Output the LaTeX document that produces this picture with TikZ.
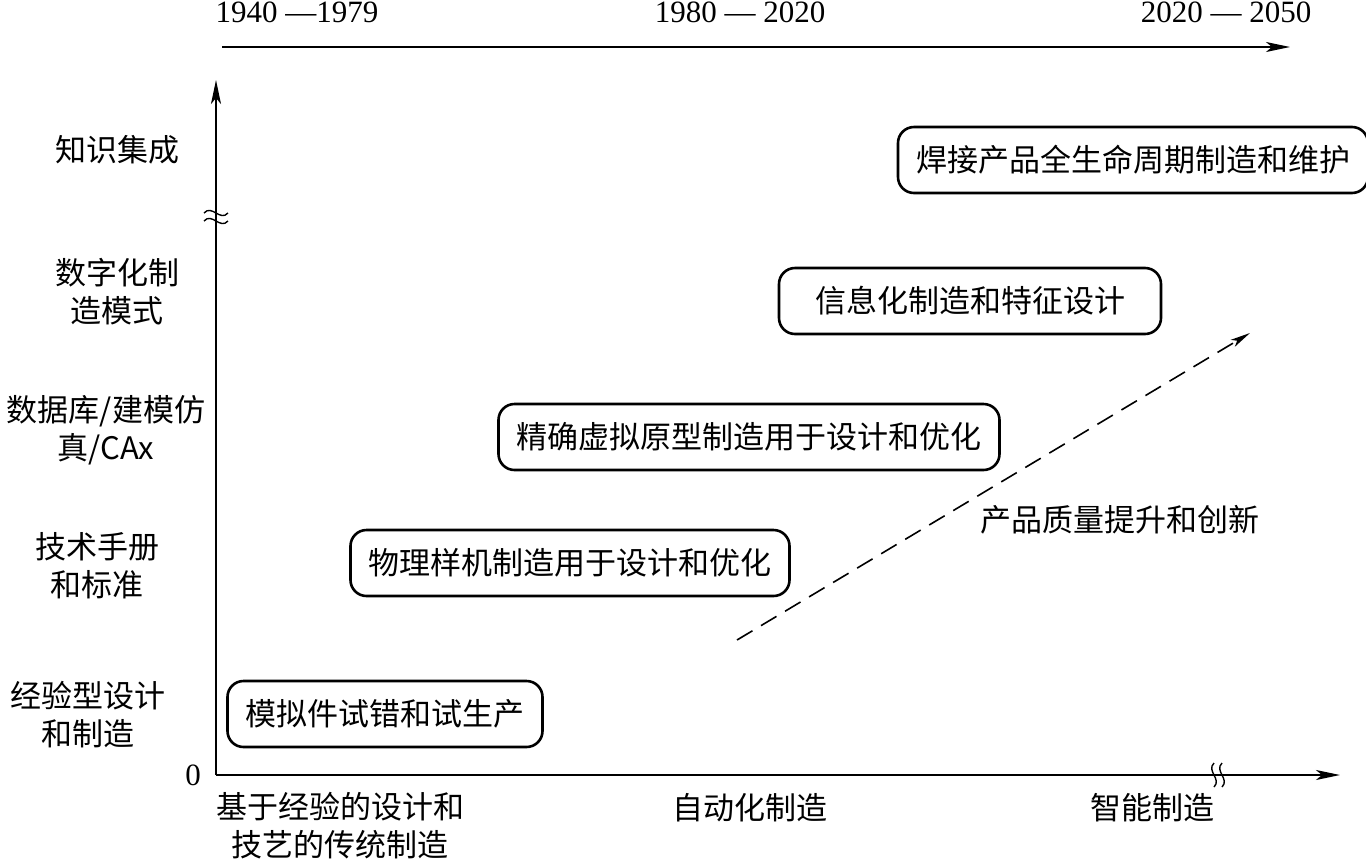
\documentclass[tikz,border=0pt]{standalone}
\usepackage{fontspec}
\setmainfont{Liberation Serif}
\newfontfamily\cjk{Noto Sans CJK SC}
\usetikzlibrary{positioning, arrows.meta}

\begin{document}
\begin{tikzpicture}[x=0.5pt, y=-0.5pt]
    \tikzset{
        stage/.style={draw, line width=1.3pt, rounded corners=8pt,
            minimum height=33pt, inner xsep=9pt,
            font=\cjk\fontsize{15.5}{19}\selectfont},
        level/.style={align=center, font=\cjk\fontsize{15.5}{19}\selectfont},
        era/.style={font=\fontsize{15.5}{19}\selectfont},
        axis/.style={line width=0.9pt, -{Stealth[length=12pt, width=5pt, inset=3pt]}},
        brk/.style={line width=0.7pt}
    }
    \useasboundingbox (0,0) rectangle (1366,863);

    % axes
    \coordinate (O) at (216,775);
    \coordinate (ytop) at (216,80);
    \coordinate (xend) at (1340,775);
    \coordinate (tl) at (222,47);
    \coordinate (tr) at (1290,47);
    \draw[axis] (O) -- (ytop);
    \draw[axis] (O) -- (xend);
    \draw[axis] (tl) -- (tr);

    % axis breaks
    \foreach \d in {-4,4} {
        \draw[brk] (204,217+\d) .. controls (212,208+\d) and (220,226+\d) .. (228,217+\d);
        \draw[brk] (1218+\d,763) .. controls (1210+\d,771) and (1226+\d,779) .. (1218+\d,787);
    }
    \node[era, left=4pt] (zero) at (O) {0};

    % time spans
    \node[era] (t1) at (297,12) {1940 —1979};
    \node[era] (t2) at (740,12) {1980 — 2020};
    \node[era] (t3) at (1226,12) {2020 — 2050};

    % levels
    \node[level] (k) at (117,150) {知识集成};
    \node[level] (d) at (117,292) {数字化制\\造模式};
    \node[level] (c) at (106,430) {数据库/建模仿\\真/CAx};
    \node[level] (h) at (97,566) {技术手册\\和标准};
    \node[level] (e) at (88,715) {经验型设计\\和制造};

    % phases
    \node[level] (p1) at (340,826) {基于经验的设计和\\技艺的传统制造};
    \node[level] (p2) at (750,808) {自动化制造};
    \node[level] (p3) at (1152,808) {智能制造};

    % stages
    \node[stage] (s1) at (385,714) {模拟件试错和试生产};
    \node[stage] (s2) at (570,563) {物理样机制造用于设计和优化};
    \node[stage] (s3) at (749,437) {精确虚拟原型制造用于设计和优化};
    \node[stage, minimum width=191pt] (s4) at (970,301) {信息化制造和特征设计};
    \node[stage] (s5) at (1133,160) {焊接产品全生命周期制造和维护};

    % trend
    \coordinate (a) at (737,640);
    \coordinate (b) at (1250,333);
    \draw[line width=0.8pt, dash pattern=on 9pt off 5pt,
        -{Stealth[length=10pt, width=4pt, inset=2.5pt]}] (a) -- (b);
    \node[level] (q) at (1120,520) {产品质量提升和创新};
\end{tikzpicture}
\end{document}
